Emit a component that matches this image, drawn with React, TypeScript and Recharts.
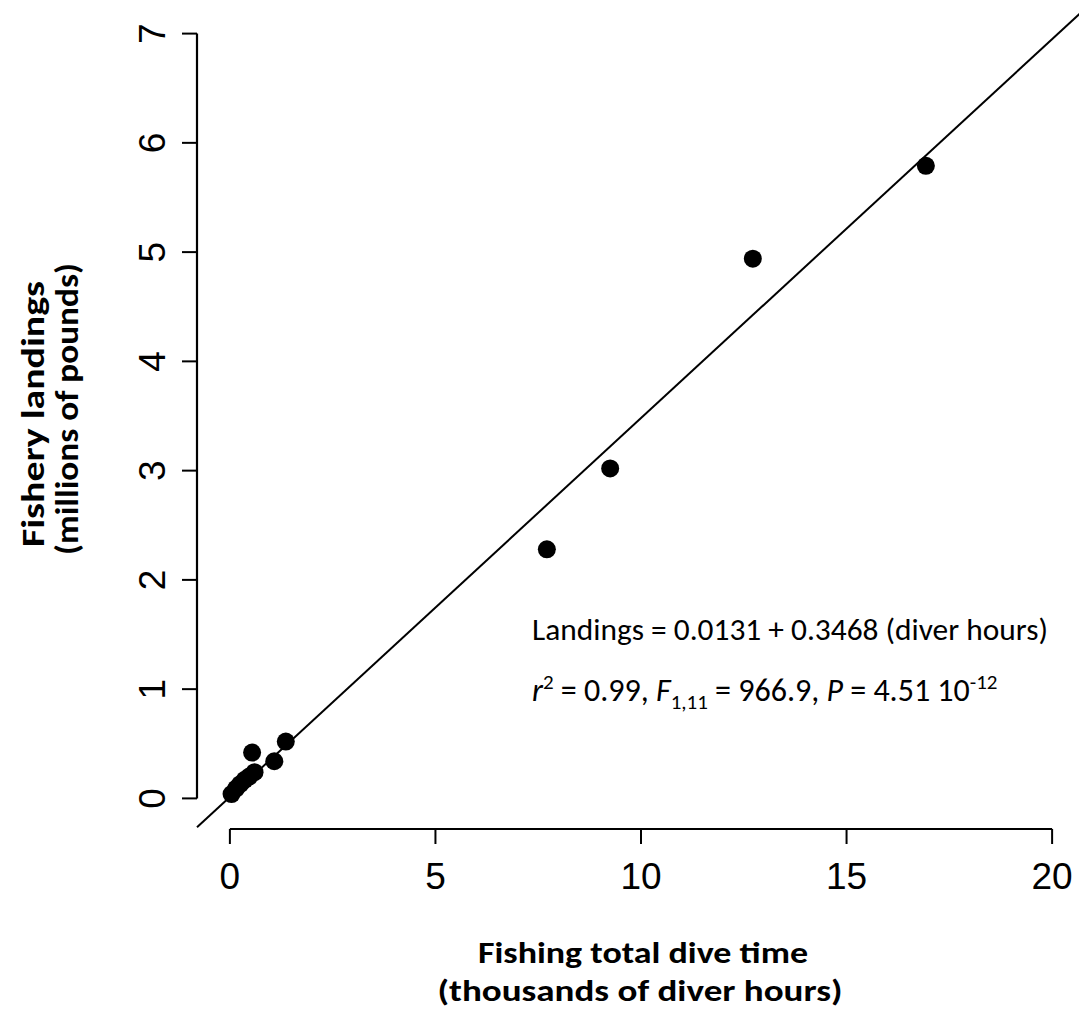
import React from 'react';
import { ScatterChart, Scatter, XAxis, YAxis, ReferenceLine } from 'recharts';

// dive time (thousands of diver hours) and landings (millions of pounds)
const diveHours = [0.04, 0.15, 0.25, 0.36, 0.47, 0.6, 0.54, 1.08, 1.36, 7.71, 9.25, 12.72, 16.93];
const landings = [0.04, 0.09, 0.13, 0.17, 0.2, 0.24, 0.42, 0.34, 0.52, 2.28, 3.02, 4.94, 5.79];

const xTicks = [0, 5, 10, 15, 20];
const yTicks = [0, 1, 2, 3, 4, 5, 6, 7];

// fitted line: Landings = 0.0131 + 0.3468 (diver hours)
const intercept = 0.0131;
const slope = 0.3468;

// R-style 4% padding around the axis ranges
const xDomain = [-0.8, 20.8];
const yDomain = [-0.28, 7.28];

const points = diveHours.map((h, i) => ({ hours: h, landings: landings[i] }));

const axisFont = '"Liberation Sans", Arial, Helvetica, sans-serif';
const labelFont = 'Carlito, Calibri, Lato, "Open Sans", sans-serif';

const Dot = (props: any) => <circle cx={props.cx} cy={props.cy} r={9} fill="#000" />;

const YTick = (props: any) => {
  const { x, y, payload } = props;
  return (
    <text
      x={x}
      y={y}
      transform={`rotate(-90 ${x} ${y})`}
      textAnchor="middle"
      fontFamily={axisFont}
      fontSize={37}
      fill="#000"
    >
      {payload.value}
    </text>
  );
};

export default function App() {
  return (
    <div style={{ position: 'absolute', left: 0, top: 0, width: 1079, height: 1021, overflow: 'hidden', background: '#fff' }}>
      <ScatterChart width={1085} height={1021} margin={{ top: 3, right: 0, bottom: 132, left: 137 }}>
        <XAxis
          type="number"
          dataKey="hours"
          domain={xDomain}
          ticks={xTicks}
          allowDataOverflow
          height={60}
          axisLine={false}
          tickSize={15}
          tickMargin={19}
          tickLine={{ stroke: '#000', strokeWidth: 2 }}
          tick={{ fill: '#000', fontSize: 37, fontFamily: axisFont }}
        />
        <YAxis
          type="number"
          dataKey="landings"
          domain={yDomain}
          ticks={yTicks}
          allowDataOverflow
          width={60}
          axisLine={false}
          tickSize={15}
          tickMargin={17}
          tickLine={{ stroke: '#000', strokeWidth: 2 }}
          tick={<YTick />}
        />
        <ReferenceLine
          segment={[{ x: xTicks[0], y: yDomain[0] }, { x: xTicks[xTicks.length - 1], y: yDomain[0] }]}
          stroke="#000"
          strokeWidth={2.2}
          ifOverflow="visible"
        />
        <ReferenceLine
          segment={[{ x: xDomain[0], y: yTicks[0] }, { x: xDomain[0], y: yTicks[yTicks.length - 1] }]}
          stroke="#000"
          strokeWidth={2.2}
          ifOverflow="visible"
        />
        <ReferenceLine
          segment={[
            { x: xDomain[0], y: intercept + slope * xDomain[0] },
            { x: xDomain[1], y: intercept + slope * xDomain[1] },
          ]}
          stroke="#000"
          strokeWidth={2}
          ifOverflow="visible"
        />
        <Scatter data={points} shape={<Dot />} isAnimationActive={false} />
      </ScatterChart>
      <svg width={1079} height={1021} style={{ position: 'absolute', left: 0, top: 0, pointerEvents: 'none' }}>
        <g fontFamily={labelFont} fill="#000">
          <text x={532} y={640} fontSize={30} textLength={516} lengthAdjust="spacingAndGlyphs">
            Landings = 0.0131 + 0.3468 (diver hours)
          </text>
          <text x={532} y={701} fontSize={32}>
            <tspan fontStyle="italic">r</tspan>
            <tspan fontSize={21} dy={-12}>2</tspan>
            <tspan dy={12}> = 0.99, </tspan>
            <tspan fontStyle="italic">F</tspan>
            <tspan fontSize={21} dy={8}>1,11</tspan>
            <tspan dy={-8}> = 966.9, </tspan>
            <tspan fontStyle="italic">P</tspan>
            <tspan> = 4.51 10</tspan>
            <tspan fontSize={21} dy={-12}>-12</tspan>
          </text>
          <g fontWeight="bold" textAnchor="middle">
            <text x={643} y={963} fontSize={31} textLength={330} lengthAdjust="spacingAndGlyphs">
              Fishing total dive time
            </text>
            <text x={640} y={1001} fontSize={31} textLength={405} lengthAdjust="spacingAndGlyphs">
              (thousands of diver hours)
            </text>
            <text x={44} y={414} fontSize={33} transform="rotate(-90 44 414)" textLength={266} lengthAdjust="spacingAndGlyphs">
              Fishery landings
            </text>
            <text x={78} y={409} fontSize={33} transform="rotate(-90 78 409)" textLength={292} lengthAdjust="spacingAndGlyphs">
              (millions of pounds)
            </text>
          </g>
        </g>
      </svg>
    </div>
  );
}
